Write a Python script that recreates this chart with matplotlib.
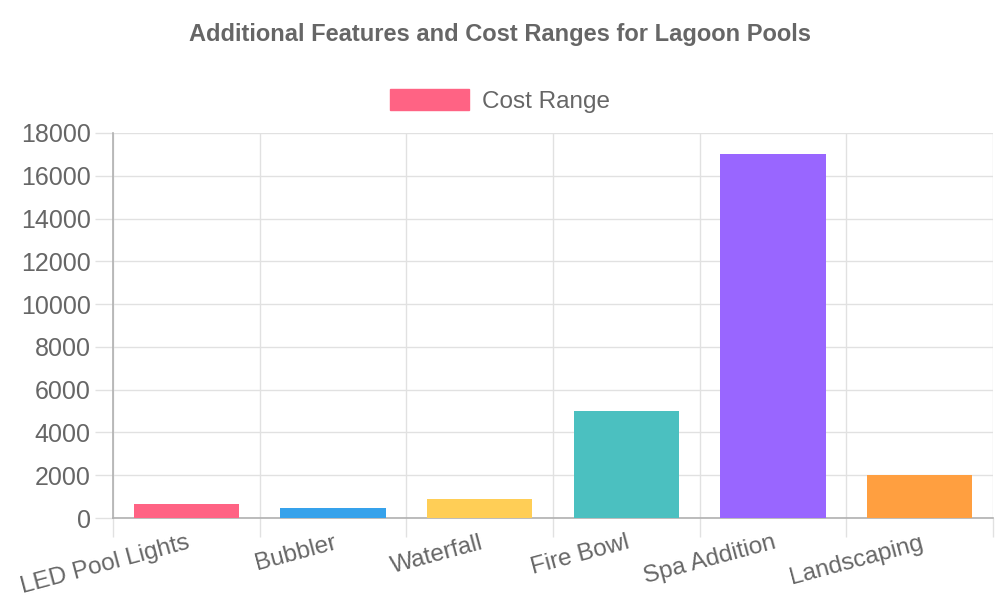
import matplotlib
matplotlib.use("Agg")
import matplotlib.pyplot as plt
from matplotlib.patches import Patch
import numpy as np

categories = ["LED Pool Lights", "Bubbler", "Waterfall", "Fire Bowl", "Spa Addition", "Landscaping"]
costs = [650, 450, 900, 5000, 17000, 2000]
colors = ["#FF6384", "#36A2EB", "#FFCE56", "#4BC0C0", "#9966FF", "#FF9F40"]
y_ticks = list(range(0, 18001, 2000))
series_name = "Cost Range"
title = "Additional Features and Cost Ranges for Lagoon Pools"

plt.rcParams['font.family'] = ['Liberation Sans', 'DejaVu Sans']
text_color = "#666666"
grid_color = "#e1e1e1"

fig = plt.figure(figsize=(10, 6), dpi=100)
ax = fig.add_axes([0.113, 1 - 518 / 600, 0.993 - 0.113, (518 - 133) / 600])

x = np.arange(len(categories))
ax.bar(x, costs, width=0.72, color=colors, zorder=3)

ax.set_xlim(-0.5, len(categories) - 0.5)
ax.set_ylim(0, 18000)
ax.set_yticks(y_ticks)
ax.set_yticklabels([str(v) for v in y_ticks], fontsize=18, color=text_color)

# grid lines at category boundaries
ax.set_xticks(np.arange(-0.5, len(categories) + 0.5, 1), minor=False)
ax.set_xticklabels([""] * (len(categories) + 1))
ax.tick_params(axis='x', which='major', length=14, color=grid_color, width=1)
ax.set_xticks(x, minor=True)
ax.set_xticklabels(categories, minor=True, fontsize=17.5, color=text_color,
                   rotation=15, ha='right', va='top', rotation_mode='anchor')
ax.tick_params(axis='x', which='minor', length=0, pad=10)

ax.tick_params(axis='y', length=13, color=grid_color, width=1, pad=3)
ax.grid(True, which='major', color=grid_color, linewidth=1, zorder=0)
ax.set_axisbelow(True)

for side in ['top', 'right']:
    ax.spines[side].set_visible(False)
for side in ['left', 'bottom']:
    ax.spines[side].set_color("#b0b0b0")
    ax.spines[side].set_linewidth(1.2)

fig.text(0.5, 1 - 34 / 600, title, ha='center', va='center', fontsize=17,
         fontweight='bold', color=text_color)

handle = Patch(facecolor=colors[0], edgecolor=colors[0])
fig.legend([handle], [series_name], loc='center', bbox_to_anchor=(0.5, 1 - 101 / 600),
           frameon=False, fontsize=17.5, labelcolor=text_color, handlelength=3.25,
           handleheight=0.95, handletextpad=0.53)

fig.savefig("out.png", dpi=100)
